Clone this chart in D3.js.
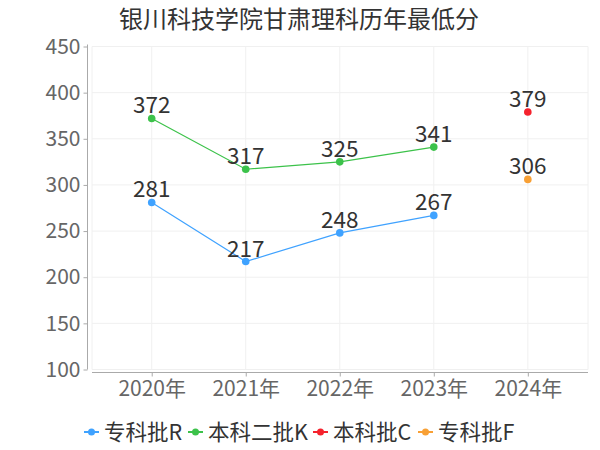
<!DOCTYPE html>
<html><head><meta charset="utf-8">
<script src="https://cdn.jsdelivr.net/npm/d3@7"></script>
<style>body{margin:0;background:#fff;}svg{display:block;font-family:"Noto Sans CJK SC","Noto Sans",sans-serif;}</style>
</head><body>
<svg id="c" width="600" height="450"></svg>
<script>
const title = "银川科技学院甘肃理科历年最低分";
const years = [2020, 2021, 2022, 2023, 2024];
const yearLabels = ["2020年", "2021年", "2022年", "2023年", "2024年"];
const yTicks = [100, 150, 200, 250, 300, 350, 400, 450];
const seriesNames = ["专科批R", "本科二批K", "本科批C", "专科批F"];
const seriesColors = ["#3fa2ff", "#3cc24a", "#f5222d", "#f8a035"];
const zhuankeR = [281, 217, 248, 267, null];
const benke2K = [372, 317, 325, 341, null];
const benkeC = [null, null, null, null, 379];
const zhuankeF = [null, null, null, null, 306];
const seriesValues = [zhuankeR, benke2K, benkeC, zhuankeF];

const svg = d3.select("#c");
const L = 92, R = 588, T = 46.5, B = 369.5;
const x = d3.scaleLinear().domain([2019.365, 2024.64]).range([L, R]);
const y = d3.scaleLinear().domain([100, 450]).range([B, T]);

// title
svg.append("text").attr("x", 299).attr("y", 28).attr("text-anchor", "middle")
  .attr("font-size", 24).attr("fill", "#333").text(title);

// grid
const g = svg.append("g");
g.selectAll(".hg").data(yTicks).join("line")
  .attr("x1", L).attr("x2", R).attr("y1", d => y(d)).attr("y2", d => y(d))
  .attr("stroke", "#f0f0f0").attr("stroke-width", 1);
g.selectAll(".vg").data(years).join("line")
  .attr("x1", d => x(d)).attr("x2", d => x(d)).attr("y1", T).attr("y2", B)
  .attr("stroke", "#f0f0f0").attr("stroke-width", 1);
[L, R].forEach(px => g.append("line").attr("x1", px).attr("x2", px).attr("y1", T).attr("y2", B)
  .attr("stroke", "#f0f0f0"));

// y axis
const ya = svg.append("g").attr("transform", "translate(87.5,0)")
  .call(d3.axisLeft(y).tickValues(yTicks).tickSize(4).tickPadding(3));
ya.select(".domain").attr("stroke", "#aaa").attr("d", `M-0,${T - 2}V${B}`);
ya.selectAll(".tick line").attr("stroke", "#aaa");
ya.selectAll("text").attr("font-size", 21).attr("fill", "#666").attr("font-family", "\"Noto Sans CJK SC\",sans-serif");

// x axis
const xa = svg.append("g").attr("transform", "translate(0,372.5)")
  .call(d3.axisBottom(x).tickValues(years).tickFormat((d, i) => yearLabels[i]).tickSize(4).tickPadding(5));
xa.select(".domain").attr("stroke", "#aaa").attr("d", `M${L},0H${R}`);
xa.selectAll(".tick line").attr("stroke", "#aaa");
xa.selectAll("text").attr("font-size", 21).attr("fill", "#666").attr("font-family", "\"Noto Sans CJK SC\",sans-serif");

// series
seriesValues.forEach((vals, si) => {
  const pts = vals.map((v, i) => ({ x: years[i], v })).filter(d => d.v != null);
  const line = d3.line().x(d => x(d.x)).y(d => y(d.v));
  svg.append("path").datum(pts).attr("d", line).attr("fill", "none")
    .attr("stroke", seriesColors[si]).attr("stroke-width", 1.2);
  svg.selectAll(null).data(pts).join("circle")
    .attr("cx", d => x(d.x)).attr("cy", d => y(d.v)).attr("r", 3.8)
    .attr("fill", seriesColors[si]);
  svg.selectAll(null).data(pts).join("text")
    .attr("x", d => x(d.x)).attr("y", d => y(d.v) - 5).attr("text-anchor", "middle")
    .attr("font-size", 22.5).attr("fill", "#333").text(d => d.v);
});

// legend
const legendX = [84, 188, 313, 418];
seriesNames.forEach((n, i) => {
  const lg = svg.append("g").attr("transform", `translate(${legendX[i]},432)`);
  lg.append("line").attr("x1", 0).attr("x2", 15).attr("y1", 0).attr("y2", 0)
    .attr("stroke", seriesColors[i]).attr("stroke-width", 2);
  lg.append("circle").attr("cx", 7.5).attr("cy", 0).attr("r", 3.5).attr("fill", seriesColors[i]);
  lg.append("text").attr("x", 20).attr("y", 0).attr("dy", "0.35em")
    .attr("font-size", 21.5).attr("fill", "#333").text(n);
});
</script>
</body></html>
